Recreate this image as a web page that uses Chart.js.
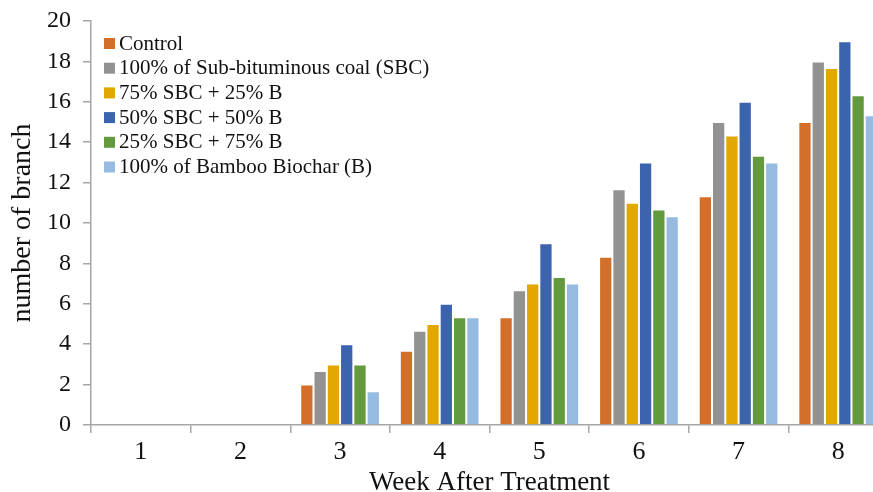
<!DOCTYPE html>
<html><head><meta charset="utf-8">
<script src="https://cdn.jsdelivr.net/npm/chart.js@4"></script>
<style>
html,body{margin:0;padding:0;overflow:hidden;background:#fff;width:873px;height:492px;}
#wrap{position:absolute;left:0;top:0;width:888px;height:492px;}
</style></head>
<body>
<div id="wrap"><canvas id="c" width="888" height="492"></canvas></div>
<script>
const weeks = ["1","2","3","4","5","6","7","8"];
const seriesNames = ["Control","100% of Sub-bituminous coal (SBC)","75% SBC + 25% B","50% SBC + 50% B","25% SBC + 75% B","100% of Bamboo Biochar (B)"];
const control = [0,0,2,3.67,5.33,8.33,11.33,15];
const sbc100 = [0,0,2.67,4.67,6.67,11.67,15,18];
const sbc75 = [0,0,3,5,7,11,14.33,17.67];
const sbc50 = [0,0,4,6,9,13,16,19];
const sbc25 = [0,0,3,5.33,7.33,10.67,13.33,16.33];
const bamboo = [0,0,1.67,5.33,7,10.33,13,15.33];
const yTicks = [0,2,4,6,8,10,12,14,16,18,20];
const colors = ["#D46E2B","#929292","#E2A800","#3C64AE","#639A3E","#97BAE0"];
const values = [control,sbc100,sbc75,sbc50,sbc25,bamboo];

const FONT = "'Liberation Serif','Times New Roman',serif";

const legendPlugin = {
  id:'insideLegend',
  afterDraw(chart){
    const ctx = chart.ctx;
    ctx.save();
    ctx.font = "21px " + FONT;
    ctx.textBaseline = 'middle';
    ctx.textAlign = 'left';
    chart.data.datasets.forEach((ds,i)=>{
      const y = 43 + i*24.7;
      ctx.fillStyle = ds.backgroundColor;
      ctx.fillRect(104, y-5, 11, 11);
      ctx.fillStyle = '#111';
      ctx.fillText(ds.label, 119, y+1);
    });
    ctx.restore();
  }
};

new Chart(document.getElementById('c'), {
  type:'bar',
  data:{
    labels: weeks,
    datasets: seriesNames.map((n,i)=>({
      label:n, data:values[i], backgroundColor:colors[i],
      borderColor:'rgba(255,255,255,0.35)', borderWidth:{left:1,right:1,top:1,bottom:0},
      categoryPercentage:0.8, barPercentage:1.0
    }))
  },
  options:{
    responsive:false, animation:false,
    layout:{padding:{top:8,right:0,left:0,bottom:0}},
    plugins:{legend:{display:false}, tooltip:{enabled:false}},
    scales:{
      x:{
        offset:true,
        grid:{offset:true, drawOnChartArea:false, drawTicks:true, tickLength:8, color:'#A6A6A6', lineWidth:1.5},
        border:{color:'#A6A6A6', width:1.5},
        ticks:{color:'#111', font:{family:FONT,size:26}, padding:4},
        title:{display:true, text:'Week After Treatment', color:'#111', font:{family:FONT,size:27,lineHeight:1}, padding:{top:0,bottom:-4}},
        afterFit(s){ s.height = 67; }
      },
      y:{
        min:0, max:20,
        afterBuildTicks(s){ s.ticks = yTicks.map(v=>({value:v})); },
        grid:{drawOnChartArea:false, drawTicks:true, tickLength:8, color:'#A6A6A6', lineWidth:1.5},
        border:{color:'#A6A6A6', width:1.5},
        ticks:{color:'#111', font:{family:FONT,size:24,lineHeight:0.75}, padding:12},
        title:{display:true, text:'number of branch', color:'#111', font:{family:FONT,size:28,lineHeight:1.2}, padding:{top:6,bottom:0}},
        afterFit(s){ s.width = 91; }
      }
    }
  },
  plugins:[legendPlugin]
});
</script>
</body></html>
